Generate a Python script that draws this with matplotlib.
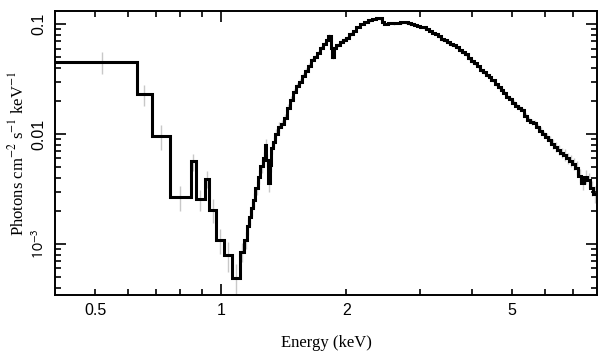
import numpy as np
import matplotlib
matplotlib.use("Agg")
import matplotlib.pyplot as plt
from matplotlib.ticker import FixedLocator, FuncFormatter, NullFormatter

# ---- data (energy bin edges in keV, flux in photons cm^-2 s^-1 keV^-1) ----
coarse_edges = [0.38, 0.629, 0.683, 0.755, 0.847, 0.871, 0.915, 0.937, 0.976, 1.017, 1.064, 1.115]
coarse_flux = [0.0454, 0.0231, 0.0096, 0.00267, 0.00564, 0.00256, 0.0039, 0.00205, 0.00109, 8.0e-4, 4.9e-4]
coarse_err = [0.23, 0.22, 0.25, 0.25, 0.18, 0.22, 0.18, 0.25, 0.25, 0.30, 0.35]

fine_edges = [1.115, 1.140, 1.156, 1.172, 1.184, 1.193, 1.210, 1.227, 1.244, 1.261, 1.275,
              1.286, 1.296, 1.311, 1.322, 1.332, 1.351, 1.370, 1.393, 1.416, 1.439, 1.463,
              1.488, 1.513, 1.538, 1.564, 1.590, 1.617, 1.644, 1.671, 1.699, 1.728, 1.759,
              1.786, 1.811, 1.836, 1.853, 1.872, 1.894, 1.929, 1.961, 1.994, 2.033, 2.076,
              2.115, 2.154, 2.202, 2.255, 2.302, 2.362, 2.392, 2.432, 2.460, 2.515, 2.571,
              2.628, 2.687, 2.746, 2.808,
              2.855, 2.903, 2.952, 3.001, 3.051, 3.102, 3.153, 3.206, 3.260, 3.314, 3.370,
              3.426, 3.483, 3.541, 3.600, 3.660, 3.721, 3.784, 3.847, 3.911, 3.976, 4.043,
              4.110, 4.179, 4.249, 4.320, 4.392, 4.465, 4.540, 4.616, 4.693, 4.771, 4.851,
              4.932, 5.014, 5.098, 5.183, 5.270, 5.358, 5.447, 5.538, 5.631, 5.725, 5.821,
              5.918, 6.017, 6.117, 6.219, 6.323, 6.429, 6.536, 6.646, 6.757, 6.870, 6.984,
              7.101, 7.220, 7.340, 7.463, 7.587, 7.714, 7.843, 7.974]
fine_flux = [8.51e-4, 1.094e-3, 1.466e-3, 1.770e-3, 2.138e-3, 2.529e-3, 3.25e-3, 4.09e-3,
             5.15e-3, 6.09e-3, 8.0e-3, 5.83e-3, 3.61e-3, 5.26e-3, 7.50e-3, 8.51e-3, 0.01007,
             0.01165, 0.01241, 0.01406, 0.01734, 0.02051, 0.02425, 0.02749, 0.02986, 0.03388,
             0.03758, 0.04177, 0.04735, 0.05046, 0.05487, 0.06093, 0.06623, 0.07200, 0.07825,
             0.06093, 0.05046, 0.06093, 0.06487, 0.06903, 0.07200, 0.07504, 0.08166, 0.08690,
             0.09447, 0.1006, 0.1050, 0.1084, 0.1118, 0.1141, 0.1129, 0.1050, 0.1006, 0.1028,
             0.1017, 0.1028, 0.1039, 0.1039,
             0.1017, 0.1006, 0.0985, 0.0965, 0.0945, 0.0935, 0.0906, 0.0869, 0.0833, 0.0816,
             0.0774, 0.0735, 0.0712, 0.0690, 0.0662, 0.0641, 0.0615, 0.0584, 0.0560, 0.0531,
             0.0494, 0.0464, 0.0440, 0.0413, 0.0384, 0.0365, 0.0346, 0.0328, 0.0308, 0.0287,
             0.0269, 0.0253, 0.0235, 0.0218, 0.0207, 0.0193, 0.0181, 0.0173, 0.0166, 0.01467,
             0.01349, 0.01294, 0.01254, 0.01165, 0.01072, 0.00996, 0.00945, 0.00887, 0.00816,
             0.00766, 0.00720, 0.00676, 0.00648, 0.00603, 0.00572, 0.00537, 0.00494, 0.00418,
             0.00361, 0.00409, 0.00384, 0.00325, 0.00287]
fine_err = [0.20, 0.18, 0.17, 0.16, 0.16, 0.15, 0.15, 0.14, 0.14, 0.13,
            0.12, 0.14, 0.18, 0.14, 0.12, 0.11, 0.10, 0.10, 0.09, 0.09,
            0.08, 0.08, 0.07, 0.07, 0.07, 0.06, 0.06, 0.06, 0.05, 0.05,
            0.05, 0.05, 0.05, 0.04, 0.04, 0.05, 0.05, 0.04, 0.04, 0.04,
            0.04, 0.04, 0.04, 0.03, 0.03, 0.03, 0.03, 0.03, 0.03, 0.03,
            0.03, 0.03, 0.03, 0.03, 0.03, 0.03, 0.03, 0.03,
            0.03, 0.03, 0.03, 0.03, 0.03, 0.03, 0.03, 0.03, 0.03, 0.03,
            0.035, 0.035, 0.035, 0.035, 0.035, 0.035, 0.035, 0.035, 0.035, 0.035,
            0.04, 0.04, 0.04, 0.04, 0.04, 0.04, 0.04, 0.04, 0.04, 0.04,
            0.05, 0.05, 0.05, 0.05, 0.05, 0.05, 0.05, 0.05, 0.05, 0.05,
            0.06, 0.06, 0.07, 0.07, 0.08, 0.08, 0.09, 0.09, 0.10, 0.10,
            0.11, 0.11, 0.12, 0.12, 0.13, 0.13, 0.14, 0.14, 0.15, 0.15, 0.16, 0.16, 0.17]

xtick_labels = {0.5: "0.5", 1.0: "1", 2.0: "2", 5.0: "5"}
ytick_major = [0.1, 0.01, 0.001]
ytick_labels = ["0.1", "0.01", r"$10^{-3}$"]

# ---- figure ----
fig = plt.figure(figsize=(6.09, 3.57), dpi=100)
ax = fig.add_axes([0.0903, 0.1737, 0.8900, 0.7955])

edges_a = np.array(coarse_edges + fine_edges[1:])
flux_a = np.array(coarse_flux + fine_flux)
err_a = np.array(coarse_err + fine_err)
centers = np.sqrt(edges_a[:-1] * edges_a[1:])
centers[0] = 0.52  # error bar of the first (wide) bin sits inside the visible range

ax.vlines(centers, flux_a * (1 - err_a), flux_a * (1 + err_a), color="#c8c8c8", lw=1.0, zorder=1)
ax.stairs(flux_a, edges_a, color="black", lw=2.2, baseline=None, zorder=2)

ax.set_xscale("log")
ax.set_yscale("log")
ax.set_xlim(0.4, 8.0)
ax.set_ylim(3.43e-4, 0.132)


def xfmt(v, pos):
    for k, s in xtick_labels.items():
        if abs(v - k) < 1e-6:
            return s
    return ""


ax.xaxis.set_major_locator(FixedLocator([1.0]))
ax.xaxis.set_minor_locator(FixedLocator([0.5, 0.6, 0.7, 0.8, 0.9, 2, 3, 4, 5, 6, 7]))
ax.xaxis.set_major_formatter(FuncFormatter(xfmt))
ax.xaxis.set_minor_formatter(FuncFormatter(xfmt))

ax.yaxis.set_major_locator(FixedLocator(ytick_major))
ax.yaxis.set_minor_locator(FixedLocator([k * d for d in (1e-4, 1e-3, 1e-2) for k in range(2, 10)]))
ax.yaxis.set_minor_formatter(NullFormatter())
ax.set_yticks(ytick_major, ytick_labels)

ax.tick_params(which="both", direction="in", top=True, right=True, width=1.2, pad=6,
               labelsize=11.5)
ax.tick_params(which="major", length=8)
ax.tick_params(which="minor", length=4)

for lab in ax.get_xticklabels() + ax.get_xticklabels(minor=True):
    lab.set_fontfamily("Liberation Sans")
for lab in ax.get_yticklabels():
    lab.set_fontfamily("Liberation Sans")
    lab.set_rotation(90)
    lab.set_va("center")
    lab.set_math_fontfamily("stixsans")

for s in ax.spines.values():
    s.set_linewidth(1.4)

ax.set_xlabel("Energy (keV)", fontfamily="Liberation Serif", fontsize=12, labelpad=12)
ax.set_ylabel(r"Photons cm$^{-2}$ s$^{-1}$ keV$^{-1}$", fontfamily="Liberation Serif",
              fontsize=12, labelpad=2, math_fontfamily="stix")

fig.savefig("out.png", dpi=100)
